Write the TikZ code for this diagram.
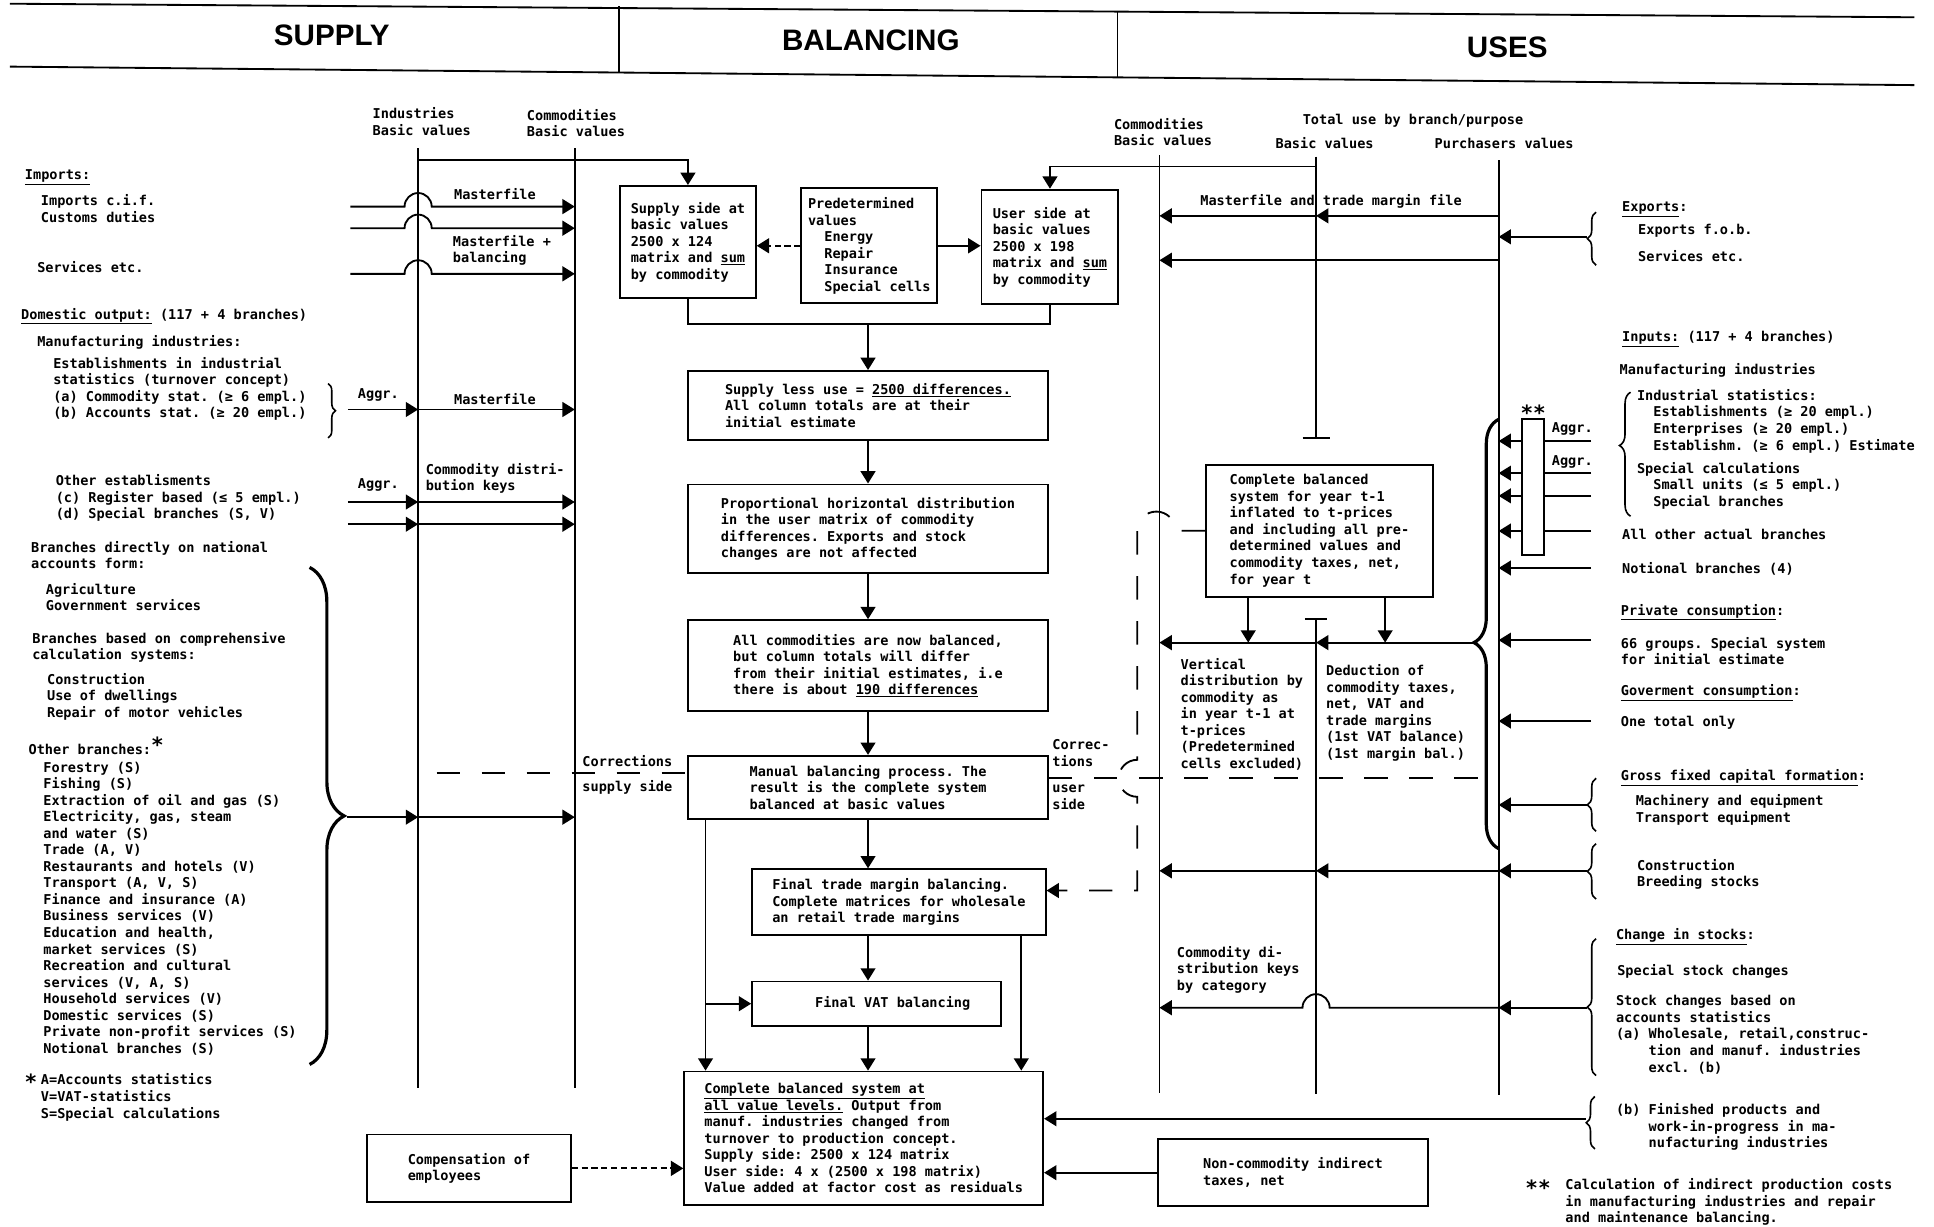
\documentclass[tikz,border=0pt]{standalone}
\usepackage{fontspec}
\newfontfamily\dmono{DejaVu Sans Mono}
\newfontfamily\hsans{Liberation Sans}
\usetikzlibrary{calc, positioning}
\usetikzlibrary{arrows.meta}
\usetikzlibrary{decorations.pathreplacing}
\frenchspacing

\begin{document}
\begin{tikzpicture}[x=1pt, y=-1pt,
  every node/.style={font=\fontsize{11}{13.4}\selectfont\dmono\bfseries, inner sep=0pt},
  txt/.style={anchor=north west, align=left},
  box/.style={draw, line width=1.5pt, anchor=north west, align=left},
  flow/.style={line width=1.5pt},
  arr/.style={flow, -{Triangle[length=10pt, width=12pt]}},
  longdash/.style={dash pattern=on 19pt off 17.5pt},
  shortdash/.style={dash pattern=on 5pt off 3pt},
  brc/.style={decorate, decoration={brace, amplitude=#1}, line width=1.3pt},
  brc/.default=7pt,
  hdr/.style={font=\fontsize{24}{28}\selectfont\hsans\bfseries},
  star/.style={font=\fontsize{17}{17}\selectfont\dmono\bfseries}
]
\useasboundingbox (0,0) rectangle (1568,994);

% header
\draw[flow] (8,3) -- (1552,14);
\draw[flow] (8,54) -- (1552,69);
\draw[flow] (502,5) -- (502,58);
\draw[flow] (906,10) -- (906,63);
\node[hdr] (hSupply) at (269,29) {SUPPLY};
\node[hdr] (hBal) at (706,33) {BALANCING};
\node[hdr] (hUses) at (1222,38) {USES};

% column heads
\node[txt] (hInd) at (302,87) {Industries\\Basic values};
\node[txt] (hComS) at (427,88.5) {Commodities\\Basic values};
\node[txt] (hComU) at (903,95.5) {Commodities\\Basic values};
\node[txt] (hTot) at (1056,92.5) {Total use by branch/purpose};
\node[txt] (hBas) at (1034,111.5) {Basic values};
\node[txt] (hPur) at (1163,111.5) {Purchasers values};

% vertical lines
\coordinate (indT) at (339,120);
\coordinate (indB) at (339,882);
\coordinate (comsT) at (466,120);
\coordinate (comsB) at (466,882);
\coordinate (comuT) at (940,126);
\coordinate (comuB) at (940,886);
\coordinate (basT) at (1067,127);
\coordinate (basE) at (1067,355);
\coordinate (bas2T) at (1067,502);
\coordinate (bas2B) at (1067,887);
\coordinate (purT) at (1215,130);
\coordinate (purB) at (1215,888);

\draw[flow] (indT) -- (indB);
\draw[flow] (comsT) -- (comsB);
\draw[flow] (comuT) -- (comuB);
\draw[flow] (basT) -- (basE);
\draw[flow] ($(basE)+(-11,0)$) -- ($(basE)+(11,0)$);
\draw[flow] (bas2T) -- (bas2B);
\draw[flow] ($(bas2T)+(-9,0)$) -- ($(bas2T)+(9,0)$);
\draw[flow] (purT) -- (purB);

% boxes
\node[box, minimum width=110pt, minimum height=91pt] (supply) at (502,150)
  {Supply side at\\basic values\\2500 x 124\\matrix and \underline{sum}\\by commodity};
\node[box, minimum width=110pt, minimum height=93pt] (pred) at (649,152)
  {Predetermined\\values\\\phantom{xx}Energy\\\phantom{xx}Repair\\\phantom{xx}Insurance\\\phantom{xx}Special cells};
\node[box, minimum width=111pt, minimum height=93pt] (user) at (795,153)
  {User side at\\basic values\\2500 x 198\\matrix and \underline{sum}\\by commodity};
\node[box, minimum width=292pt, minimum height=56pt] (sless) at (557,300)
  {Supply less use = \underline{2500 differences.}\\All column totals are at their\\initial estimate};
\node[box, minimum width=292pt, minimum height=72pt] (prop) at (557,392)
  {Proportional horizontal distribution\\in the user matrix of commodity\\differences. Exports and stock\\changes are not affected};
\node[box, minimum width=292pt, minimum height=74pt] (allc) at (557,502)
  {All commodities are now balanced,\\but column totals will differ\\from their initial estimates, i.e\\there is about \underline{190 differences}};
\node[box, minimum width=292pt, minimum height=51pt] (manual) at (557,612)
  {Manual balancing process. The\\result is the complete system\\balanced at basic values};
\node[box, minimum width=238pt, minimum height=53pt] (ftrade) at (609,704)
  {Final trade margin balancing.\\Complete matrices for wholesale\\an retail trade margins};
\node[box, minimum width=202pt, minimum height=36pt] (vat) at (609,795)
  {\hspace*{26pt}Final VAT balancing};
\node[box, minimum width=291pt, minimum height=108pt] (complete) at (554,868)
  {\underline{Complete balanced system at}\\\underline{all value levels.} Output from\\manuf. industries changed from\\turnover to production concept.\\Supply side: 2500 x 124 matrix\\User side: 4 x (2500 x 198 matrix)\\Value added at factor cost as residuals};
\node[box, minimum width=165pt, minimum height=55pt] (comp) at (297,919)
  {Compensation of\\employees};
\node[box, minimum width=219pt, minimum height=54pt] (noncom) at (938,923)
  {Non-commodity indirect\\taxes, net};
\node[box, minimum width=184pt, minimum height=107pt] (cbox) at (977,376)
  {Complete balanced\\system for year t-1\\inflated to t-prices\\and including all pre-\\determined values and\\commodity taxes, net,\\for year t};

% balancing flow
\coordinate (topS) at (339,130);
\coordinate (topU) at (1067,135);
\draw[arr] (topS) -| (supply.north);
\draw[arr] (topU) -| (user.north);
\draw[arr, shortdash] (pred.west) -- (pred.west -| supply.east);
\draw[arr] (pred.east) -- (pred.east -| user.west);
\draw[flow] (supply.south) -- ++(0,20) coordinate (mL) -| (user.south);
\draw[arr] (sless.north |- mL) -- (sless.north);
\draw[arr] (sless.south) -- (prop.north);
\draw[arr] (prop.south) -- (allc.north);
\draw[arr] (allc.south) -- (manual.north);
\draw[arr] (manual.south) -- (manual.south |- ftrade.north);
\draw[arr] (manual.south |- ftrade.south) -- (manual.south |- vat.north);
\draw[arr] (manual.south |- vat.south) -- (manual.south |- complete.north);
\coordinate (byL) at (572,0);
\coordinate (byR) at (828,0);
\draw[arr] (manual.south -| byL) -- (complete.north -| byL);
\draw[arr] (vat.west -| byL) -- (vat.west);
\draw[arr] (ftrade.south -| byR) -- (complete.north -| byR);
\draw[arr, shortdash] (comp.east) -- (comp.east -| complete.west);
\draw[arr] (noncom.west) -- (noncom.west -| complete.east);

% corrections
\coordinate (cl) at (0,627);
\coordinate (cr) at (0,631);
\coordinate (dv) at (922,0);
\coordinate (fte) at (0,722);
\draw[flow, longdash, dash phase=21.5pt] (cl -| indT) -- (cl -| manual.west);
\draw[flow, longdash] (manual.east |- cr) -- (cr -| purT);
\draw[arr, longdash] (cbox.west) -- ++(-24,0) arc[start angle=0, end angle=180, radius=15.5pt]
  -- ($(cr -| dv)+(0,-15)$) arc[start angle=90, end angle=270, radius=15pt]
  -- (fte -| dv) -- (fte -| ftrade.east);
\node[txt] (corS1) at (472,612.5) {Corrections};
\node[txt] (corS2) at (472,632.5) {supply side};
\node[txt] (corU1) at (853,599.5) {Correc-\\tions};
\node[txt] (corU2) at (853,636.5) {user\\side};

% supply side inputs
\coordinate (r1) at (284,167.5);
\coordinate (r2) at (284,185);
\coordinate (r3) at (284,222);
\foreach \r in {r1,r2,r3}
  \draw[arr] (\r) -- ($(\r -| indT)+(-11,0)$) arc[start angle=180, end angle=0, radius=11pt] -- (\r -| comsT);
\coordinate (ra) at (282,332);
\coordinate (rb) at (282,407);
\coordinate (rc) at (282,425);
\coordinate (rd) at (281,662.5);
\foreach \r in {ra,rb,rc,rd} {
  \draw[arr] (\r) -- (\r -| indT);
  \draw[arr] (\r -| indT) -- (\r -| comsT);
}
\node[txt] (mf1) at (368,152.5) {Masterfile};
\node[txt] (mf2) at (367,190.5) {Masterfile +\\balancing};
\node[txt] (ag1) at (290,314.5) {Aggr.};
\node[txt] (mf3) at (368,318.5) {Masterfile};
\node[txt] (ag2) at (290,387.5) {Aggr.};
\node[txt] (cdk) at (345,375.5) {Commodity distri-\\bution keys};

\draw[brc=6pt] (266,311) -- (266,355);
\draw[brc=28pt, line width=2.6pt] (251,460) -- (251,863);

% supply side texts
\node[txt] (imp) at (20,137.5) {\underline{Imports:}};
\node[txt] (imp1) at (33,157.5) {Imports c.i.f.\\Customs duties};
\node[txt] (imp2) at (30,211.5) {Services etc.};
\node[txt] (dom) at (17,249.5) {\underline{Domestic output:} (117 + 4 branches)};
\node[txt] (manu) at (30,271.5) {Manufacturing industries:};
\node[txt] (est) at (43,289.5) {Establishments in industrial\\statistics (turnover concept)\\(a) Commodity stat. (≥ 6 empl.)\\(b) Accounts stat. (≥ 20 empl.)};
\node[txt] (oest) at (45,384.5) {Other establisments\\(c) Register based (≤ 5 empl.)\\(d) Special branches (S, V)};
\node[txt] (bdir) at (25,438.5) {Branches directly on national\\accounts form:};
\node[txt] (agri) at (37,472.5) {Agriculture\\Government services};
\node[txt] (bcal) at (26,512.5) {Branches based on comprehensive\\calculation systems:};
\node[txt] (cons) at (38,545.5) {Construction\\Use of dwellings\\Repair of motor vehicles};
\node[txt] (obr) at (23,597.5) {Other branches:\raisebox{1pt}{\fontsize{17}{17}\selectfont*}};
\node[txt] (olist) at (35,617.5) {Forestry (S)\\Fishing (S)\\Extraction of oil and gas (S)\\Electricity, gas, steam\\and water (S)\\Trade (A, V)\\Restaurants and hotels (V)\\Transport (A, V, S)\\Finance and insurance (A)\\Business services (V)\\Education and health,\\market services (S)\\Recreation and cultural\\services (V, A, S)\\Household services (V)\\Domestic services (S)\\Private non-profit services (S)\\Notional branches (S)};
\node[star] (fstar) at (25,877) {*};
\node[txt] (fnote) at (33,870.5) {A=Accounts statistics\\V=VAT-statistics\\S=Special calculations};

% uses side
\coordinate (m1) at (0,175);
\coordinate (m2) at (0,211);
\draw[arr] (m1 -| purT) -- (m1 -| basT);
\draw[arr] (m1 -| basT) -- (m1 -| comuT);
\draw[arr] (m2 -| purT) -- (m2 -| comuT);
\node[txt] (mtf) at (973,157.5) {Masterfile and trade margin file};

\coordinate (ex) at (1287,192);
\draw[arr] (ex) -- (ex -| purT);
\draw[brc] (1294,215) -- (1294,172);
\node[txt] (exh) at (1315,163.5) {\underline{Exports}:};
\node[txt] (ex1) at (1328,181.5) {Exports f.o.b.};
\node[txt] (ex2) at (1328,202.5) {Services etc.};

\foreach \y in {357.6,383.6,402,430.5,460.5,519,584.6} {
  \coordinate (in) at (1290,\y);
  \draw[arr] (in) -- (in -| purT);
}
\node[draw, fill=white, line width=1.5pt, minimum width=18pt, minimum height=110pt, anchor=north west] (aggbox) at (1233,339) {};
\node[star] (st2) at (1243,335) {**};
\node[txt] (ag3) at (1258,342.5) {Aggr.};
\node[txt] (ag4) at (1258,369.5) {Aggr.};

\node[txt] (inp) at (1315,268.5) {\underline{Inputs:} (117 + 4 branches)};
\node[txt] (inm) at (1313,294.2) {Manufacturing industries};
\draw[brc=9pt, decoration={aspect=0.57}] (1322,418.5) -- (1322,318);
\node[txt] (ind1) at (1327,315.5) {Industrial statistics:\\\phantom{xx}Establishments (≥ 20 empl.)\\\phantom{xx}Enterprises (≥ 20 empl.)\\\phantom{xx}Establishm. (≥ 6 empl.) Estimate};
\node[txt] (ind2) at (1327,374.5) {Special calculations\\\phantom{xx}Small units (≤ 5 empl.)\\\phantom{xx}Special branches};
\node[txt] (allo) at (1315,428.5) {All other actual branches};
\node[txt] (notb) at (1315,456) {Notional branches (4)};
\node[txt] (prc) at (1314,489.5) {\underline{Private consumption}:};
\node[txt] (prc1) at (1314,516.5) {66 groups. Special system\\for initial estimate};
\node[txt] (gvc) at (1314,554.5) {\underline{Goverment consumption}:};
\node[txt] (gvc1) at (1314,580.5) {One total only};
\node[txt] (gfc) at (1314,623.5) {\underline{Gross fixed capital formation}:};
\node[txt] (gfc1) at (1326,644) {Machinery and equipment\\Transport equipment};
\node[txt] (gfc2) at (1327,696.2) {Construction\\Breeding stocks};
\node[txt] (chs) at (1310,752.5) {\underline{Change in stocks}:};
\node[txt] (chs1) at (1311,781.5) {Special stock changes};
\node[txt] (chs2) at (1310,807) {Stock changes based on\\accounts statistics\\(a) Wholesale, retail,construc-\\\phantom{xxxx}tion and manuf. industries\\\phantom{xxxx}excl. (b)};
\node[txt] (chs3) at (1310,894.5) {(b) Finished products and\\\phantom{xxxx}work-in-progress in ma-\\\phantom{xxxx}nufacturing industries};
\node[star] (st3) at (1247,963) {**};
\node[txt] (fn2) at (1269,955.5) {Calculation of indirect production costs\\in manufacturing industries and repair\\and maintenance balancing.};

% gathering brace and uses rows
\draw[brc=20pt, line width=2.6pt, decoration={aspect=0.48}] (1215,688) -- (1215,340);
\coordinate (btip) at (1195,521);
\coordinate (dA) at (1012,0);
\coordinate (dB) at (1123,0);
\draw[arr] (cbox.south -| dA) -- (btip -| dA);
\draw[arr] (cbox.south -| dB) -- (btip -| dB);
\draw[arr] (btip) -- (btip -| bas2T);
\draw[arr] (btip -| bas2T) -- (btip -| comuT);
\node[txt] (vdist) at (957,533.3) {Vertical\\distribution by\\commodity as\\in year t-1 at\\t-prices\\(Predetermined\\cells excluded)};
\node[txt] (dedu) at (1075,538.5) {Deduction of\\commodity taxes,\\net, VAT and\\trade margins\\(1st VAT balance)\\(1st margin bal.)};

\coordinate (gf) at (1287,652.6);
\coordinate (co) at (1287,706);
\coordinate (sk) at (1287,817);
\coordinate (fb) at (1286,907);
\draw[arr] (gf) -- (gf -| purT);
\draw[arr] (co) -- (co -| purT);
\draw[arr] (co -| purT) -- (co -| bas2T);
\draw[arr] (co -| bas2T) -- (co -| comuT);
\draw[arr] (sk) -- (sk -| purT);
\draw[arr] (sk -| purT) -- ($(sk -| bas2T)+(11,0)$) arc[start angle=0, end angle=180, radius=11pt] -- (sk -| comuT);
\draw[arr] (fb) -- (fb -| complete.east);
\draw[brc] (1294,674) -- (1294,631);
\draw[brc] (1294,729) -- (1294,684);
\draw[brc] (1294,872) -- (1294,761);
\draw[brc] (1293,931.5) -- (1293,889);
\node[txt] (cdk2) at (954,767) {Commodity di-\\stribution keys\\by category};
\end{tikzpicture}
\end{document}
